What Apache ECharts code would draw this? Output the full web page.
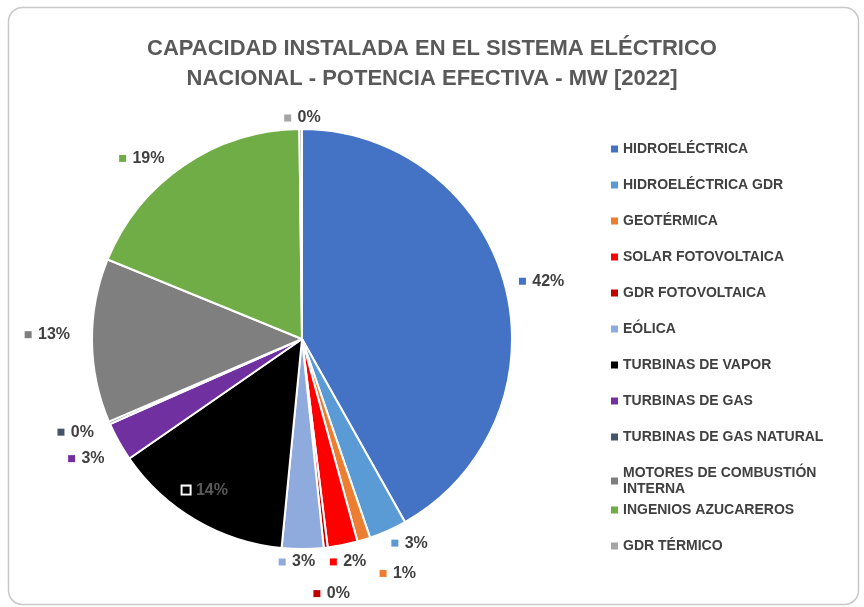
<!DOCTYPE html>
<html>
<head>
<meta charset="utf-8">
<script src="https://cdn.jsdelivr.net/npm/echarts@6/dist/echarts.min.js"></script>
<style>
  html, body { margin: 0; padding: 0; background: #fff; }
  #chart { width: 864px; height: 607px; }
</style>
</head>
<body>
<div id="chart"></div>
<script>
// categorias (orden de la torta, desde las 12 en sentido horario)
const categorias = [
  'HIDROELÉCTRICA',
  'HIDROELÉCTRICA GDR',
  'GEOTÉRMICA',
  'SOLAR FOTOVOLTAICA',
  'GDR FOTOVOLTAICA',
  'EÓLICA',
  'TURBINAS DE VAPOR',
  'TURBINAS DE GAS',
  'TURBINAS DE GAS NATURAL',
  'MOTORES DE COMBUSTIÓN INTERNA',
  'INGENIOS AZUCAREROS',
  'GDR TÉRMICO'
];
// participacion estimada (%)
const participacion = [41.8, 2.9, 1.0, 2.3, 0.3, 3.2, 13.8, 3.0, 0.2, 12.6, 18.6, 0.2];
const colores = [
  '#4472C4', '#5B9BD5', '#ED7D31', '#FF0000', '#C00000', '#8FAADC',
  '#000000', '#7030A0', '#44546A', '#7F7F7F', '#70AD47', '#A5A5A5'
];
// ajuste de las etiquetas (como las acomoda Excel)
const ajusteEtiquetas = {
  0: [3, -3],
  1: [-4, 7],
  2: [9, 28],
  3: [-19, 11],
  4: [-18, 40],
  5: [-29, 7],
  6: [-42, 58],
  7: [-4, 14],
  8: [-5, 7],
  9: [-11, -6],
  10: [-11, -2],
  11: [25, -5]
};

var chartDom = document.getElementById('chart');
var myChart = echarts.init(chartDom);

var fuente = 'Liberation Sans, Arial, sans-serif';
var rich = {
  v: { fontSize: 16, fontWeight: 'bold', color: '#404040', fontFamily: fuente, padding: [0, 0, 0, 3] },
  vi: { fontSize: 16, fontWeight: 'bold', color: '#595959', fontFamily: fuente, padding: [0, 0, 0, 3] }
};
colores.forEach(function (c, i) {
  rich['s' + i] = { width: 7, height: 7, backgroundColor: c };
});
// marcador de la etiqueta dentro de la porcion negra
rich.s6 = { width: 7, height: 7, backgroundColor: '#000', borderColor: '#fff', borderWidth: 2 };

const datos = categorias.map(function (nombre, i) {
  var item = { name: nombre, value: participacion[i], itemStyle: { color: colores[i] } };
  if (i === 6) {
    item.label = {
      position: 'inside',
      formatter: function (p) { return '{s6|} {vi|' + Math.round(p.percent) + '%}'; }
    };
  }
  return item;
});

const legendText = {
  fontSize: 14,
  fontWeight: 'bold',
  color: '#404040',
  fontFamily: fuente,
  lineHeight: 16
};
const legendFmt = function (name) {
  return name === 'MOTORES DE COMBUSTIÓN INTERNA' ? 'MOTORES DE COMBUSTIÓN\nINTERNA' : name;
};

var option = {
  backgroundColor: '#fff',
  animation: false,
  title: {
    text: 'CAPACIDAD INSTALADA EN EL SISTEMA ELÉCTRICO\nNACIONAL - POTENCIA EFECTIVA - MW [2022]',
    left: 'center',
    top: 29,
    textStyle: {
      fontSize: 22,
      fontWeight: 'bold',
      color: '#595959',
      lineHeight: 30,
      fontFamily: fuente
    }
  },
  graphic: [
    {
      type: 'rect',
      left: 6,
      top: 5,
      shape: { width: 850, height: 597, r: 14 },
      style: { fill: 'none', stroke: '#C8C8C8', lineWidth: 1.5 },
      z: 100
    }
  ],
  legend: [
    {
      orient: 'vertical',
      left: 606,
      top: 136,
      itemWidth: 7,
      itemHeight: 7,
      itemGap: 20,
      icon: 'rect',
      itemStyle: { borderWidth: 0 },
      data: categorias.slice(0, 10),
      formatter: legendFmt,
      textStyle: legendText
    },
    {
      orient: 'vertical',
      left: 606,
      top: 497,
      itemWidth: 7,
      itemHeight: 7,
      itemGap: 20,
      icon: 'rect',
      itemStyle: { borderWidth: 0 },
      data: categorias.slice(10),
      textStyle: legendText
    }
  ],
  series: [
    {
      type: 'pie',
      center: [302, 339],
      radius: 210,
      startAngle: 90,
      clockwise: true,
      avoidLabelOverlap: false,
      data: datos,
      itemStyle: { borderColor: '#fff', borderWidth: 2 },
      label: {
        show: true,
        position: 'outside',
        formatter: function (p) { return '{s' + p.dataIndex + '|} {v|' + Math.round(p.percent) + '%}'; },
        rich: rich
      },
      labelLine: { show: false, length: 6, length2: 0 },
      labelLayout: function (params) {
        var a = ajusteEtiquetas[params.dataIndex];
        if (a) {
          return { dx: a[0], dy: a[1] };
        }
      },
      emphasis: { disabled: true }
    }
  ]
};

option && myChart.setOption(option);
</script>
</body>
</html>
